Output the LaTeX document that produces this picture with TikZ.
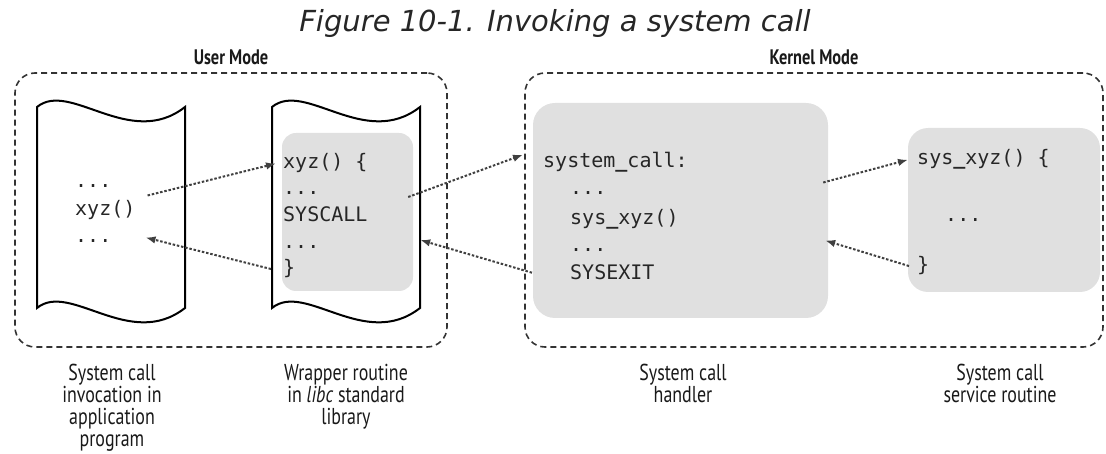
\documentclass[tikz,border=0pt]{standalone}
\usepackage{fontspec}
\setmainfont{PT Sans}
\newfontfamily\titlefont{DejaVu Sans Oblique}
\newfontfamily\codefont{DejaVu Sans Mono}
\newfontfamily\capfont[FakeStretch=0.78]{PT Sans}
\usetikzlibrary{arrows.meta}
\newcommand\usc{{\bfseries\_}}

\tikzset{
  modebox/.style={draw=black!80, line width=1.6pt, dash pattern=on 6pt off 4pt, rounded corners=20pt, inner sep=0pt},
  modelabel/.style={font=\capfont\bfseries\fontsize{21}{21}\selectfont, text=black!90, anchor=base, inner sep=0pt},
  pageline/.style={draw=black, line width=2pt},
  graybox/.style={fill=black!12, draw=none, inner sep=0pt},
  codeline/.style={font=\codefont\fontsize{20}{24}\selectfont, text=black!85, inner sep=0pt, anchor=base west},
  subcap/.style={font=\capfont\fontsize{23}{22}\selectfont, text=black!90, align=center, inner sep=0pt, anchor=north},
  callarrow/.style={draw=black!75, line width=2pt, dash pattern=on 2.5pt off 1.8pt, -{Latex[length=10pt,width=7.5pt]}},
}

\begin{document}
\begin{tikzpicture}[x=1pt, y=-1pt]
\useasboundingbox (0,0) rectangle (1106,454);

% Titre
\node[font=\titlefont\fontsize{29}{29}\selectfont, text=black!85, anchor=base, inner sep=0pt] (title) at (555,32) {Figure 10-1. Invoking a system call};

% Cadres User Mode / Kernel Mode
\node[modebox, minimum width=432pt, minimum height=274pt] (usermode) at (231,210) {};
\node[modelabel] (userlbl) at (231,65) {User Mode};
\node[modebox, minimum width=578pt, minimum height=274pt] (kernelmode) at (814,210) {};
\node[modelabel] (kernellbl) at (814,65) {Kernel Mode};

% Pages du programme et de la libc
\draw[pageline] (37,107) .. controls (70,80) and (130,150) .. (185,107) -- (185,308)
  .. controls (130,351) and (70,281) .. (37,308) -- cycle;
\draw[pageline] (272,107) .. controls (305,80) and (365,150) .. (420,107) -- (420,308)
  .. controls (365,351) and (305,281) .. (272,308) -- cycle;

% Blocs gris
\node[graybox, rounded corners=14pt, minimum width=131pt, minimum height=158pt] (wrapbox) at (347.5,212) {};
\node[graybox, rounded corners=22pt, minimum width=295pt, minimum height=215pt] (handler) at (680.5,210.5) {};
\node[graybox, rounded corners=20pt, minimum width=192pt, minimum height=164pt] (service) at (1004,210) {};

% Programme
\node[codeline] (calldotsa) at (75,188) {...};
\node[codeline] (callxyz) at (75,216) {xyz()};
\node[codeline] (calldotsb) at (75,243) {...};

% Routine wrapper
\node[codeline] (wrapxyz) at (283,169) {xyz() \{};
\node[codeline] (wrapdotsa) at (283,195) {...};
\node[codeline] (wrapsys) at (283,222) {SYSCALL};
\node[codeline] (wrapdotsb) at (283,249) {...};
\node[codeline] (wrapclose) at (283,275) {\}};

% Handler
\node[codeline] (hsyscall) at (543,168) {system\usc call:};
\node[codeline] (hdotsa) at (570,195) {...};
\node[codeline] (hsysxyz) at (570,225) {sys\usc xyz()};
\node[codeline] (hdotsb) at (570,252) {...};
\node[codeline] (hsysexit) at (570,280) {SYSEXIT};

% Service routine
\node[codeline] (svcopen) at (917,165) {sys\usc xyz() \{};
\node[codeline] (svcdots) at (945,222) {...};
\node[codeline] (svcclose) at (917,272) {\}};

% Fleches d'appel et de retour
\draw[callarrow] ([shift={(12,-15)}]callxyz.east) -- ([xshift=-7pt]wrapxyz.west);
\draw[callarrow] ([xshift=-12pt]wrapclose.west) -- ([shift={(34,-4)}]calldotsb.east);
\draw[callarrow] ([shift={(-5,-15)}]wrapbox.east) -- ([shift={(-20,-8)}]hsyscall.west);
\draw[callarrow] ([xshift=-38pt]hsysexit.west) -- ([shift={(7,28)}]wrapbox.east);
\draw[callarrow] ([shift={(-5,-28)}]handler.east) -- ([xshift=-9pt]svcopen.west);
\draw[callarrow] ([xshift=-8pt]svcclose.west) -- ([shift={(-3,30)}]handler.east);

% Legendes
\node[subcap] (capcall) at (112,364) {System call\\invocation in\\application\\program};
\node[subcap] (capwrap) at (346,364) {Wrapper routine\\in \textit{libc} standard\\library};
\node[subcap] (caphandler) at (683,364) {System call\\handler};
\node[subcap] (capservice) at (1000,364) {System call\\service routine};

\end{tikzpicture}
\end{document}
